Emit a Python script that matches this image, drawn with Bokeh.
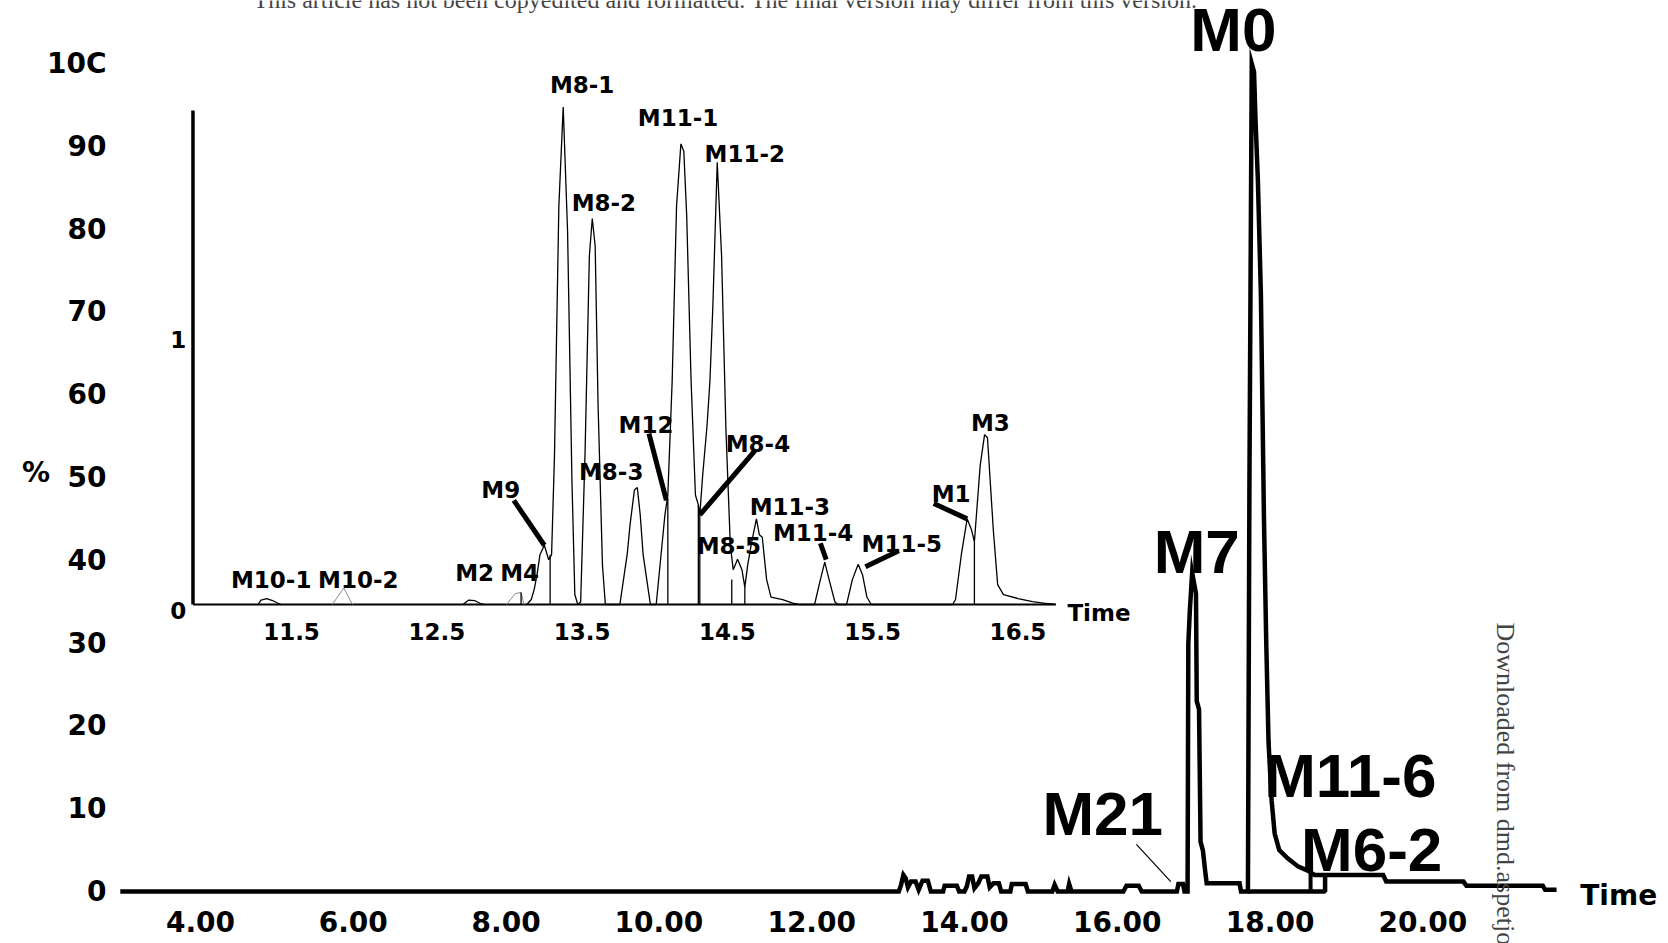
import math
from bokeh.plotting import figure
from bokeh.models import Range1d, FixedTicker, Label
from bokeh.core.properties import value
from bokeh.embed import file_html
from bokeh.resources import INLINE

# ---------------- main chromatogram (time in min, relative abundance %) ----------------
main_time = [2.95, 13.14, 13.17, 13.20, 13.23, 13.26, 13.30, 13.36, 13.40, 13.45, 13.52, 13.56,
             13.72, 13.74, 13.90, 13.93, 14.00, 14.03, 14.06, 14.10, 14.13, 14.18, 14.22, 14.30,
             14.33, 14.38, 14.45, 14.48, 14.60, 14.62, 14.80, 14.83, 15.15, 15.18, 15.22, 15.35,
             15.37, 15.40, 16.08, 16.12, 16.28, 16.32, 16.78, 16.80, 16.86, 16.88, 16.92, 16.93,
             16.95, 16.98, 17.01, 17.03, 17.04, 17.07, 17.09, 17.12, 17.15, 17.17, 17.60, 17.62,
             17.71, 17.73, 17.76, 17.79, 17.81, 17.84, 17.88, 17.92, 17.95, 17.98, 18.02, 18.06,
             18.12, 18.23, 18.37, 18.50, 18.58, 19.48, 19.52, 20.53, 20.57, 21.57, 21.60, 21.75]
main_pct = [0, 0, 0.8, 2.0, 1.6, 0.5, 1.2, 1.2, 0.2, 1.3, 1.3, 0,
            0, 0.7, 0.7, 0, 0, 0.6, 1.8, 1.8, 0.4, 1.0, 1.8, 1.8,
            0.5, 1.0, 1.0, 0, 0, 0.9, 0.9, 0, 0, 0.8, 0, 0,
            0.9, 0, 0, 0.7, 0.7, 0, 0, 0.9, 0.9, 0, 0, 30,
            34, 38.5, 37, 36, 23, 22, 6, 5, 2.5, 1, 1, 0,
            0, 50, 100, 99, 93, 86, 72, 45, 30, 18, 11, 7,
            5, 4, 3, 2.5, 2, 2, 1.2, 1.2, 0.7, 0.7, 0.2, 0.2]

# integration baseline under M0 and drop line for M6-2
main_base_time = [17.71, 18.72, 18.72]
main_base_pct = [0, 0, 2.0]
main_drop_time = [18.53]
main_drop_pct = [2.5]
# M21 leader line (thin)
m21_leader_time = [16.25, 16.70]
m21_leader_pct = [5.7, 1.2]

y_ticks = [0, 10, 20, 30, 40, 50, 60, 70, 80, 90, 100]
y_tick_labels = ["0", "10", "20", "30", "40", "50", "60", "70", "80", "90", "10C"]
x_ticks = [4, 6, 8, 10, 12, 14, 16, 18, 20]
x_tick_labels = ["4.00", "6.00", "8.00", "10.00", "12.00", "14.00", "16.00", "18.00", "20.00"]

main_peak_names = ["M0", "M7", "M21", "M11-6", "M6-2"]
main_peak_label_time = [17.52, 17.04, 15.81, 19.05, 19.33]
main_peak_label_pct = [104.1, 41.1, 9.4, 14.0, 5.1]

# ---------------- inset (expanded 11-17 min region) ----------------
inset_time = [13.12, 13.15, 13.17, 13.19, 13.21, 13.24, 13.27, 13.29, 13.31, 13.34, 13.37, 13.40,
              13.43, 13.45, 13.47, 13.49, 13.52, 13.55, 13.57, 13.59, 13.61, 13.64, 13.66, 13.76,
              13.79, 13.81, 13.83, 13.86, 13.88, 13.90, 13.92, 13.95, 13.97, 14.01, 14.04, 14.07,
              14.09, 14.12, 14.15, 14.18, 14.20, 14.22, 14.25, 14.28, 14.30, 14.31, 14.33, 14.36,
              14.38, 14.40, 14.43, 14.46, 14.49, 14.52, 14.54, 14.57, 14.60, 14.62, 14.64, 14.67,
              14.70, 14.72, 14.74, 14.77, 14.80, 14.88, 14.95, 15.00, 15.10, 15.14, 15.17, 15.20,
              15.24, 15.26, 15.32, 15.36, 15.40, 15.43, 15.46, 15.49, 16.05, 16.07, 16.11, 16.15,
              16.18, 16.20, 16.24, 16.27, 16.29, 16.33, 16.36, 16.40, 16.50, 16.60, 16.70, 16.76]
inset_pct = [0, 1, 3, 6, 10, 11.9, 9, 10, 30, 80, 99.9, 75,
             25, 2, 0, 0.5, 30, 70, 77.5, 72, 40, 8, 0, 0,
             6, 10, 16, 23, 23.5, 18, 10, 4, 0, 0, 9, 18,
             22, 45, 80, 92.5, 91, 78, 45, 22, 20, 18, 26, 36,
             45, 60, 88.8, 70, 35, 12, 7, 9.1, 7, 3.5, 8, 13,
             17.2, 14, 13.5, 5, 1.5, 1, 0.3, 0, 0, 5, 8.5, 5,
             0.5, 0, 0, 5, 8.1, 6, 1.5, 0, 0, 1, 10, 17.2,
             15, 12.6, 28, 34.1, 33.5, 15, 4, 2, 1.2, 0.6, 0.2, 0]
m10_1_time = [11.27, 11.29, 11.33, 11.37, 11.41, 11.43]
m10_1_pct = [0, 0.9, 1.2, 0.8, 0.2, 0]
m2_time = [12.68, 12.72, 12.76, 12.80, 12.83]
m2_pct = [0, 0.9, 0.8, 0.2, 0]
m10_2_time = [11.78, 11.86, 11.92]
m10_2_pct = [0, 3.3, 0]
m4_time = [12.98, 13.04, 13.08, 13.10]
m4_pct = [0, 2.2, 2.4, 0]
inset_drop_time = [13.08, 13.28, 14.09, 14.30, 14.31, 14.53, 14.62, 16.20]
inset_drop_pct = [2.4, 10, 21, 20, 18, 5, 3.5, 12.6]

inset_ticks = [11.5, 12.5, 13.5, 14.5, 15.5, 16.5]
inset_tick_labels = ["11.5", "12.5", "13.5", "14.5", "15.5", "16.5"]
inset_y_ticks = [0, 53.2]
inset_y_tick_labels = ["0", "1"]
inset_axis_time = [10.822, 16.76]
inset_axis_top = 99.2

inset_peak_names = ["M8-1", "M11-1", "M11-2", "M8-2", "M12", "M8-4", "M8-3", "M9", "M3", "M1",
                    "M11-3", "M11-4", "M11-5", "M8-5", "M10-1", "M10-2", "M2", "M4"]
inset_label_time = [13.50, 14.16, 14.62, 13.65, 13.94, 14.71, 13.70, 12.94, 16.31, 16.04,
                    14.93, 15.09, 15.70, 14.51, 11.36, 11.96, 12.76, 13.07]
inset_label_pct = [104.4, 97.6, 90.4, 80.7, 36.1, 32.3, 26.7, 22.9, 36.5, 22.1,
                   19.5, 14.3, 12.2, 11.8, 5.0, 5.0, 6.4, 6.4]
# thick leader lines (from label to peak): M9, M12, M8-4, M1, M11-4, M11-5
leader_t0 = [13.03, 13.96, 14.69, 15.92, 15.14, 15.68]
leader_v0 = [20.9, 34.3, 30.9, 20.3, 12.3, 10.8]
leader_t1 = [13.24, 14.08, 14.31, 16.15, 15.18, 15.45]
leader_v1 = [11.9, 20.9, 18.0, 17.2, 9.0, 7.6]

# ---------------- figure ----------------
BOLD_SANS = "DejaVu Sans"
BIG = "Liberation Sans"

p = figure(width=1668, height=943, output_backend="svg", toolbar_location=None, title=None,
           x_range=Range1d(2.8874, 23.215), y_range=Range1d(-6.28, 107.61),
           min_border_left=115, min_border_right=0, min_border_top=0, min_border_bottom=0)
p.outline_line_color = None
p.xgrid.visible = False
p.ygrid.visible = False
p.background_fill_color = "white"
p.border_fill_color = "white"

p.extra_x_ranges = {"ix": Range1d(10.2887, 20.977)}
p.extra_y_ranges = {"iy": Range1d(-68.07, 121.29)}

for ax in (p.xaxis[0], p.yaxis[0]):
    ax.axis_line_color = None
    ax.major_tick_line_color = None
    ax.minor_tick_line_color = None
    ax.major_tick_out = 0
    ax.major_tick_in = 0
    ax.major_label_text_font = BOLD_SANS
    ax.major_label_text_font_style = "bold"
    ax.major_label_text_font_size = "28px"
    ax.major_label_text_color = "black"

p.yaxis.ticker = FixedTicker(ticks=y_ticks)
p.yaxis.major_label_overrides = {t: s for t, s in zip(y_ticks, y_tick_labels)}
p.yaxis.major_label_standoff = 9
p.yaxis.axis_label = "%"
p.yaxis.axis_label_orientation = "horizontal"
p.yaxis.axis_label_standoff = -6
p.yaxis.axis_label_text_font = BOLD_SANS
p.yaxis.axis_label_text_font_style = "bold"
p.yaxis.axis_label_text_font_size = "28px"
p.yaxis.axis_label_text_color = "black"

p.xaxis.ticker = FixedTicker(ticks=x_ticks)
p.xaxis.major_label_overrides = {t: s for t, s in zip(x_ticks, x_tick_labels)}
p.xaxis.major_label_standoff = 19
p.xaxis.fixed_location = 0

# main trace
p.line(main_time, main_pct, line_color="black", line_width=4.5, line_join="miter")
p.line(main_base_time, main_base_pct, line_color="black", line_width=4.5)
p.segment(x0=main_drop_time, y0=[0] * len(main_drop_time), x1=main_drop_time, y1=main_drop_pct,
          line_color="black", line_width=4)
p.line(m21_leader_time, m21_leader_pct, line_color="black", line_width=1.2)

p.text(x=main_peak_label_time, y=main_peak_label_pct, text=main_peak_names,
       text_font=value(BIG), text_font_style="bold", text_font_size="62px",
       text_align="center", text_baseline="middle", text_color="black")
p.text(x=[22.06], y=[-0.5], text=["Time"], text_font=value(BOLD_SANS), text_font_style="bold",
       text_font_size="28px", text_align="left", text_baseline="middle", text_color="black")

# inset
IX = dict(x_range_name="ix", y_range_name="iy")
p.segment(x0=[inset_axis_time[0]], y0=[0], x1=[inset_axis_time[0]], y1=[inset_axis_top],
          line_color="black", line_width=3.5, **IX)
p.segment(x0=[inset_axis_time[0]], y0=[0], x1=[inset_axis_time[1]], y1=[0],
          line_color="black", line_width=1.8, **IX)
p.line(inset_time, inset_pct, line_color="black", line_width=1.3, **IX)
p.line(m10_1_time, m10_1_pct, line_color="black", line_width=1.3, **IX)
p.line(m2_time, m2_pct, line_color="black", line_width=1.3, **IX)
p.line(m10_2_time, m10_2_pct, line_color="#8a8a8a", line_width=1.0, **IX)
p.line(m4_time, m4_pct, line_color="#8a8a8a", line_width=1.0, **IX)
p.segment(x0=inset_drop_time, y0=[0] * len(inset_drop_time), x1=inset_drop_time, y1=inset_drop_pct,
          line_color="black", line_width=1.3, **IX)
p.segment(x0=leader_t0, y0=leader_v0, x1=leader_t1, y1=leader_v1,
          line_color="black", line_width=5, **IX)

p.text(x=inset_label_time, y=inset_label_pct, text=inset_peak_names,
       text_font=value(BOLD_SANS), text_font_style="bold", text_font_size="23px",
       text_align="center", text_baseline="middle", text_color="black", **IX)
p.text(x=inset_ticks, y=[-5.4] * len(inset_ticks), text=inset_tick_labels,
       text_font=value(BOLD_SANS), text_font_style="bold", text_font_size="23px",
       text_align="center", text_baseline="middle", text_color="black", **IX)
p.text(x=[10.72] * len(inset_y_ticks), y=[v - 1.2 if v == 0 else v for v in inset_y_ticks],
       text=inset_y_tick_labels,
       text_font=value(BOLD_SANS), text_font_style="bold", text_font_size="23px",
       text_align="center", text_baseline="middle", text_color="black", **IX)
p.text(x=[16.84], y=[-1.8], text=["Time"], text_font=value(BOLD_SANS), text_font_style="bold",
       text_font_size="23px", text_align="left", text_baseline="middle", text_color="black", **IX)

# page furniture (journal watermark texts, partly cut off in the original)
p.add_layout(Label(x=4.694, y=107.73,
                   text="This article has not been copyedited and formatted. The final version may differ from this version.",
                   text_font="Liberation Serif", text_font_size="24px",
                   text_align="left", text_baseline="middle"))
p.add_layout(Label(x=21.08, y=32.5, text="Downloaded from dmd.aspetjournals.org",
                   text_font="Liberation Serif", text_font_size="26px", angle=-math.pi / 2,
                   text_align="left", text_baseline="middle"))

open("out.html", "w").write(file_html(p, INLINE))
